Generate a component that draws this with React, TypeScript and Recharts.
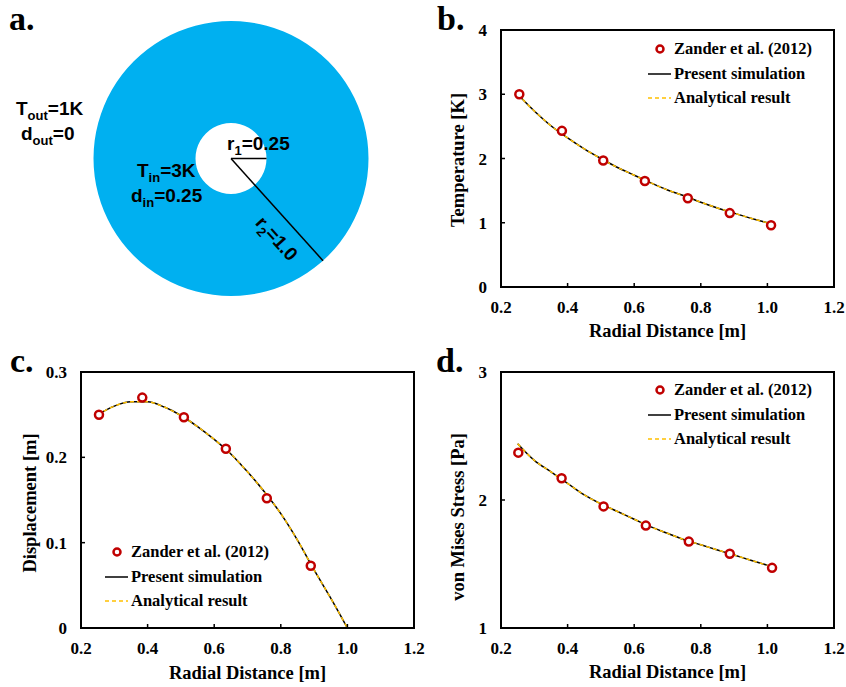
import React from "react";
import {
  ComposedChart,
  Line,
  Scatter,
  XAxis,
  YAxis,
  ReferenceArea,
  Legend,
  PieChart,
  Pie,
  Cell,
} from "recharts";

// shared x values
const radialTicks = [0.2, 0.4, 0.6, 0.8, 1.0, 1.2];
const curveRadius = [0.25, 0.3, 0.35, 0.4, 0.45, 0.5, 0.55, 0.6, 0.65, 0.7, 0.75, 0.8, 0.85, 0.9, 0.95, 1.0];
const seriesNames = ["Zander et al. (2012)", "Present simulation", "Analytical result"];

// b. temperature
const tempTicks = [0, 1, 2, 3, 4];
const zanderTempRadius = [0.255, 0.383, 0.507, 0.632, 0.761, 0.887, 1.011];
const zanderTemp = [3.0, 2.43, 1.97, 1.65, 1.38, 1.15, 0.96];
const simTemp = [3.0, 2.74, 2.51, 2.32, 2.15, 2.0, 1.86, 1.74, 1.62, 1.51, 1.42, 1.32, 1.23, 1.15, 1.07, 1.0];
const analyticTemp = [3.0, 2.74, 2.51, 2.32, 2.15, 2.0, 1.86, 1.74, 1.62, 1.51, 1.42, 1.32, 1.23, 1.15, 1.07, 1.0];

// c. displacement
const dispTicks = [0, 0.1, 0.2, 0.3];
const zanderDispRadius = [0.254, 0.384, 0.509, 0.635, 0.758, 0.89];
const zanderDisp = [0.25, 0.27, 0.247, 0.21, 0.152, 0.073];
const simDisp = [0.25, 0.26, 0.265, 0.265, 0.259, 0.249, 0.236, 0.221, 0.204, 0.183, 0.16, 0.134, 0.103, 0.068, 0.035, 0.0];
const analyticDisp = [0.25, 0.26, 0.265, 0.265, 0.259, 0.249, 0.236, 0.221, 0.204, 0.183, 0.16, 0.134, 0.103, 0.068, 0.035, 0.0];

// d. von Mises stress
const stressTicks = [1, 2, 3];
const zanderStressRadius = [0.252, 0.382, 0.508, 0.635, 0.764, 0.887, 1.014];
const zanderStress = [2.37, 2.17, 1.95, 1.8, 1.675, 1.58, 1.47];
const simStress = [2.44, 2.31, 2.22, 2.13, 2.04, 1.97, 1.91, 1.85, 1.79, 1.74, 1.69, 1.65, 1.61, 1.57, 1.53, 1.49];
const analyticStress = [2.44, 2.31, 2.22, 2.13, 2.04, 1.97, 1.91, 1.85, 1.79, 1.74, 1.69, 1.65, 1.61, 1.57, 1.53, 1.49];

// a. annulus geometry
const annulus = [{ name: "domain", value: 1 }];
const innerR = 35.5;
const outerR = 137.5;

const SERIF = "'Liberation Serif', 'Times New Roman', serif";
const SANS = "'Liberation Sans', Arial, sans-serif";
const RED = "#C00000";
const GOLD = "#FFC000";
const BLUE = "#00B0F0";

const toPoints = (xs: number[], ys: number[]) => xs.map((x, i) => ({ x, y: ys[i] }));

const tickStyle = { fill: "#000", fontSize: 17, fontWeight: "bold", fontFamily: SERIF };

function LegendBox() {
  return (
    <div style={{ fontFamily: SERIF, fontWeight: "bold", fontSize: 16.5, color: "#000" }}>
      {seriesNames.map((name, i) => (
        <div key={name} style={{ display: "flex", alignItems: "center", height: 24.5, whiteSpace: "nowrap" }}>
          <svg width={25} height={12} style={{ display: "block" }}>
            {i === 0 && <circle cx={12} cy={6} r={3.5} fill="#fff" stroke={RED} strokeWidth={2.5} />}
            {i === 1 && <line x1={0} x2={23} y1={6} y2={6} stroke="#000" strokeWidth={1.5} />}
            {i === 2 && <line x1={0} x2={23} y1={6} y2={6} stroke={GOLD} strokeWidth={1.5} strokeDasharray="4 3" />}
          </svg>
          <span style={{ marginLeft: 1 }}>{name}</span>
        </div>
      ))}
    </div>
  );
}

interface PanelProps {
  left: number;
  top: number;
  width: number;
  height: number;
  plotTop: number;
  plotBottom: number;
  right: number;
  yDomain: [number, number];
  yTicks: number[];
  yFormat: (v: number) => string;
  yTitle: string;
  yTitlePos: [number, number];
  xTitleY: number;
  legendPos: [number, number];
  zanderR: number[];
  zander: number[];
  sim: number[];
  analytic: number[];
}

function ResultPanel(p: PanelProps) {
  const xAxisH = 40;
  const yAxisW = 40;
  const plotCenterX = (81 + (p.width - p.right)) / 2;
  return (
    <div style={{ position: "absolute", left: p.left, top: p.top }}>
      <ComposedChart
        width={p.width}
        height={p.height}
        margin={{ top: p.plotTop, right: p.right, left: 81 - yAxisW, bottom: p.height - p.plotBottom - xAxisH }}
      >
        <XAxis
          dataKey="x"
          type="number"
          domain={[0.2, 1.2]}
          ticks={radialTicks}
          interval={0}
          allowDataOverflow
          height={xAxisH}
          tickFormatter={(v: number) => v.toFixed(1)}
          tick={tickStyle}
          tickSize={-4}
          tickMargin={18}
          tickLine={{ stroke: "#000", strokeWidth: 1.5 }}
          axisLine={{ stroke: "#000", strokeWidth: 2 }}
          label={() => (
            <text x={plotCenterX} y={p.xTitleY} textAnchor="middle" fontFamily={SERIF} fontWeight="bold" fontSize={18.5}>
              Radial Distance [m]
            </text>
          )}
        />
        <YAxis
          dataKey="y"
          type="number"
          domain={p.yDomain}
          ticks={p.yTicks}
          interval={0}
          allowDataOverflow
          width={yAxisW}
          tickFormatter={p.yFormat}
          tick={tickStyle}
          tickSize={-4}
          tickMargin={18}
          tickLine={{ stroke: "#000", strokeWidth: 1.5 }}
          axisLine={{ stroke: "#000", strokeWidth: 2 }}
          label={() => (
            <text
              x={p.yTitlePos[0]}
              y={p.yTitlePos[1]}
              transform={`rotate(-90 ${p.yTitlePos[0]} ${p.yTitlePos[1]})`}
              textAnchor="middle"
              dominantBaseline="central"
              fontFamily={SERIF}
              fontWeight="bold"
              fontSize={18.5}
            >
              {p.yTitle}
            </text>
          )}
        />
        <ReferenceArea
          x1={0.2}
          x2={1.2}
          y1={p.yDomain[0]}
          y2={p.yDomain[1]}
          fill="none"
          stroke="#000"
          strokeWidth={2}
          ifOverflow="visible"
        />
        <Line
          data={toPoints(curveRadius, p.sim)}
          dataKey="y"
          type="monotone"
          stroke="#000"
          strokeWidth={1.5}
          dot={false}
          isAnimationActive={false}
        />
        <Line
          data={toPoints(curveRadius, p.analytic)}
          dataKey="y"
          type="monotone"
          stroke={GOLD}
          strokeWidth={1.5}
          strokeDasharray="4 3"
          dot={false}
          isAnimationActive={false}
        />
        <Scatter
          data={toPoints(p.zanderR, p.zander)}
          dataKey="y"
          isAnimationActive={false}
          shape={(s: any) => <circle cx={s.cx} cy={s.cy} r={4} fill="#fff" stroke={RED} strokeWidth={2.5} />}
        />
        <Legend
          layout="horizontal"
          verticalAlign="middle"
          align="center"
          wrapperStyle={{ left: p.legendPos[0], top: p.legendPos[1], width: "auto", height: "auto" }}
          content={() => <LegendBox />}
        />
      </ComposedChart>
    </div>
  );
}

function Sub({ main, sub, rest }: { main: string; sub: string; rest: string }) {
  return (
    <>
      <tspan>{main}</tspan>
      <tspan fontSize={13} dy={5}>
        {sub}
      </tspan>
      <tspan dy={-5}>{rest}</tspan>
    </>
  );
}

function AnnulusPanel() {
  const cx = 231;
  const cy = 158.5;
  const angle = 48;
  const rad = (angle * Math.PI) / 180;
  return (
    <div style={{ position: "absolute", left: 0, top: 0 }}>
      <PieChart width={420} height={320} margin={{ top: 0, right: 0, bottom: 0, left: 0 }}>
        <Pie
          data={annulus}
          dataKey="value"
          cx={cx}
          cy={cy}
          innerRadius={innerR}
          outerRadius={outerR}
          startAngle={0}
          endAngle={360}
          stroke="none"
          isAnimationActive={false}
        >
          {annulus.map((d) => (
            <Cell key={d.name} fill={BLUE} />
          ))}
        </Pie>
      </PieChart>
      <svg width={420} height={320} style={{ position: "absolute", left: 0, top: 0 }}>
        <g fontFamily={SANS} fontWeight="bold" fontSize={19} fill="#000">
          <line x1={cx} y1={cy} x2={cx + innerR} y2={cy} stroke="#000" strokeWidth={1.5} />
          <line
            x1={cx}
            y1={cy}
            x2={cx + outerR * Math.cos(rad)}
            y2={cy + outerR * Math.sin(rad)}
            stroke="#000"
            strokeWidth={1.5}
          />
          <text x={16} y={115}>
            <Sub main="T" sub="out" rest="=1K" />
          </text>
          <text x={21} y={140}>
            <Sub main="d" sub="out" rest="=0" />
          </text>
          <text x={227} y={150}>
            <Sub main="r" sub="1" rest="=0.25" />
          </text>
          <text x={137} y={177}>
            <Sub main="T" sub="in" rest="=3K" />
          </text>
          <text x={131} y={202}>
            <Sub main="d" sub="in" rest="=0.25" />
          </text>
          <g transform={`translate(${cx} ${cy}) rotate(${angle})`}>
            <text x={90} y={26} textAnchor="middle">
              <Sub main="r" sub="2" rest="=1.0" />
            </text>
          </g>
        </g>
      </svg>
    </div>
  );
}

export default function App() {
  return (
    <div
      style={{
        position: "absolute",
        left: 0,
        top: 0,
        width: 846,
        height: 687,
        background: "#fff",
        fontFamily: SERIF,
        overflow: "hidden",
      }}
    >
      <AnnulusPanel />
      <ResultPanel
        left={420}
        top={0}
        width={426}
        height={343}
        plotTop={30}
        plotBottom={287}
        right={12}
        yDomain={[0, 4]}
        yTicks={tempTicks}
        yFormat={(v) => String(v)}
        yTitle="Temperature [K]"
        yTitlePos={[38, 160]}
        xTitleY={337}
        legendPos={[228, 37]}
        zanderR={zanderTempRadius}
        zander={zanderTemp}
        sim={simTemp}
        analytic={analyticTemp}
      />
      <ResultPanel
        left={0}
        top={340}
        width={430}
        height={347}
        plotTop={32}
        plotBottom={288}
        right={16}
        yDomain={[0, 0.3]}
        yTicks={dispTicks}
        yFormat={(v) => (v === 0 ? "0" : v.toFixed(1))}
        yTitle="Displacement [m]"
        yTitlePos={[30, 163]}
        xTitleY={339}
        legendPos={[105, 200]}
        zanderR={zanderDispRadius}
        zander={zanderDisp}
        sim={simDisp}
        analytic={analyticDisp}
      />
      <ResultPanel
        left={420}
        top={340}
        width={426}
        height={347}
        plotTop={32}
        plotBottom={288}
        right={12}
        yDomain={[1, 3]}
        yTicks={stressTicks}
        yFormat={(v) => String(v)}
        yTitle="von Mises Stress [Pa]"
        yTitlePos={[38, 177]}
        xTitleY={338}
        legendPos={[228, 38]}
        zanderR={zanderStressRadius}
        zander={zanderStress}
        sim={simStress}
        analytic={analyticStress}
      />
      <svg width={846} height={687} style={{ position: "absolute", left: 0, top: 0, pointerEvents: "none" }}>
        <g fontFamily={SERIF} fontWeight="bold" fontSize={34} fill="#000">
          <text x={9} y={30}>a.</text>
          <text x={437} y={30}>b.</text>
          <text x={10} y={372}>c.</text>
          <text x={436} y={372}>d.</text>
        </g>
      </svg>
    </div>
  );
}
